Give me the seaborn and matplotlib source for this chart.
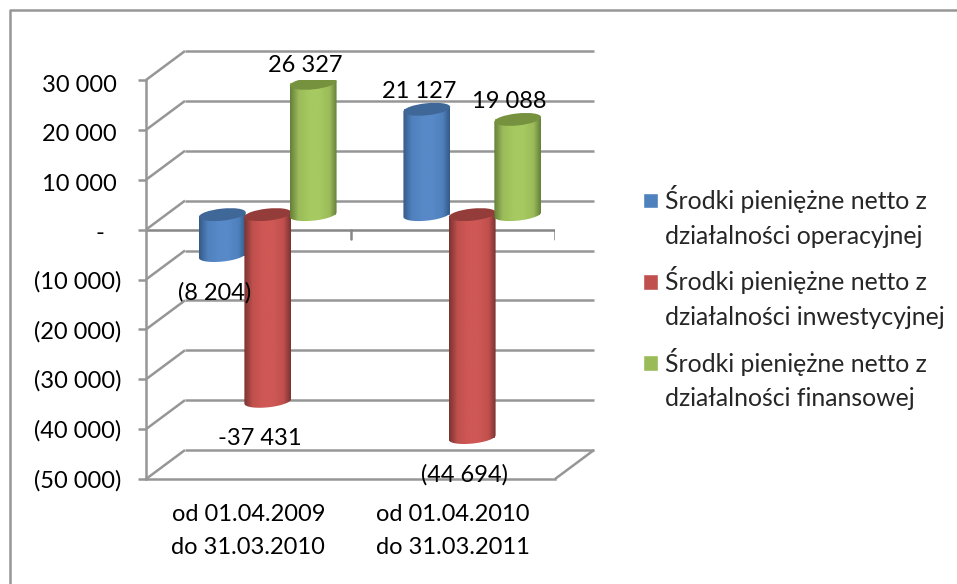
import numpy as np
import pandas as pd
import matplotlib
matplotlib.use('Agg')
import matplotlib.pyplot as plt
import seaborn as sns
from matplotlib.colors import LinearSegmentedColormap
from matplotlib.lines import Line2D
from matplotlib.patches import Ellipse
from matplotlib.path import Path
from matplotlib.transforms import Affine2D, IdentityTransform

# 1. Data
okresy = ['od 01.04.2009\ndo 31.03.2010', 'od 01.04.2010\ndo 31.03.2011']
serie = ['Środki pieniężne netto z\ndziałalności operacyjnej',
         'Środki pieniężne netto z\ndziałalności inwestycyjnej',
         'Środki pieniężne netto z\ndziałalności finansowej']
operacyjna = [-8204, 21127]
inwestycyjna = [-37431, -44694]
finansowa = [26327, 19088]
etykiety_operacyjna = ['(8 204)', '21 127']
etykiety_inwestycyjna = ['-37 431', '(44 694)']
etykiety_finansowa = ['26 327', '19 088']
os_y = [30000, 20000, 10000, 0, -10000, -20000, -30000, -40000, -50000]
os_y_opisy = ['30 000', '20 000', '10 000', '-', '(10 000)', '(20 000)',
              '(30 000)', '(40 000)', '(50 000)']

# 2. Colours
kolory = ['#4F81BD', '#C0504D', '#9BBB59']
kolory_jasne = ['#5889C8', '#CF5855', '#A6CA61']
kolory_ciemne = ['#365A88', '#7A3432', '#64803A']
kolory_wieczka = ['#3F6797', '#943C39', '#76923F']
szary = '#969696'

df = pd.DataFrame({
    'okres': okresy * 3,
    'seria': [s for s in serie for _ in okresy],
    'wartosc': operacyjna + inwestycyjna + finansowa,
})

# 3. Figure and axes (front plane of the 3D box)
sns.set_style('white')
plt.rcParams['font.family'] = ['Lato', 'DejaVu Sans']
W, H = 957, 584
fig = plt.figure(figsize=(W / 100, H / 100), dpi=100)
ax = fig.add_axes([146 / W, (H - 479) / H, 409 / W, 399 / H])
ax.patch.set_alpha(0)

sns.barplot(data=df, x='okres', y='wartosc', hue='seria', palette=kolory,
            saturation=1, width=0.667, gap=0, ax=ax)
ax.set_xlim(-0.5, 1.5)
ax.set_ylim(-50000, 30000)
ax.set_xlabel('')
ax.set_ylabel('')

# depth of the box in pixels: back wall and the plane of the cylinders
BACK_X, BACK_Y = 39, 29
MID_X, MID_Y = 19.5, 15
back = ax.transData + Affine2D().translate(BACK_X, BACK_Y)
mid = ax.transData + Affine2D().translate(MID_X, MID_Y)
piksele = IdentityTransform()
GRUBOSC = 1.8


def linia(x, y):
    fig.add_artist(Line2D(x, y, color=szary, lw=GRUBOSC, transform=piksele,
                          solid_capstyle='butt', zorder=1))


# 4. Walls and floor of the box
for v in os_y:
    ax.plot([-0.5, 1.5], [v, v], color=szary, lw=GRUBOSC, transform=back,
            clip_on=False, zorder=1, solid_capstyle='butt')
    px, py = ax.transData.transform((-0.5, v))
    linia([px, px + BACK_X], [py, py + BACK_Y])
px, py = ax.transData.transform((1.5, -50000))
linia([px, px + BACK_X], [py, py + BACK_Y])

ax.axhline(0, color='#868686', lw=GRUBOSC, zorder=2)
for x in [0.5, 1.5]:
    px, py = ax.transData.transform((x, 0))
    ax.add_artist(Line2D([px, px], [py, py - 9], color='#868686', lw=GRUBOSC,
                         transform=piksele))

sns.despine(ax=ax, top=True, right=True)
for s in ['left', 'bottom']:
    ax.spines[s].set_color(szary)
    ax.spines[s].set_linewidth(GRUBOSC)

# 5. Turn the bars into cylinders
KAT = np.deg2rad(6)
RY = 6


def elipsa(cx, cy, rx, t):
    x = rx * np.cos(t) * np.cos(KAT) - RY * np.sin(t) * np.sin(KAT)
    y = rx * np.cos(t) * np.sin(KAT) + RY * np.sin(t) * np.cos(KAT)
    return np.column_stack([cx + x, cy + y])


wszystkie_etykiety = [etykiety_operacyjna, etykiety_inwestycyjna, etykiety_finansowa]
for i, kont in enumerate(ax.containers):
    cmap = LinearSegmentedColormap.from_list(
        'c', [(0, kolory_ciemne[i]), (0.18, kolory[i]), (0.42, kolory_jasne[i]),
              (0.62, kolory_jasne[i]), (0.85, kolory[i]), (1, kolory_ciemne[i])])
    for j, p in enumerate(kont.patches):
        p.set_transform(mid)
        p.set_clip_on(False)
        p.set_zorder(3 + i)
        p.set_linewidth(0)

        w = p.get_y() + p.get_height()
        gora, dol = max(p.get_y(), w), min(p.get_y(), w)
        xs = p.get_x() + p.get_width() / 2
        cx, gy = mid.transform((xs, gora))
        _, dy = mid.transform((xs, dol))
        x0, _ = mid.transform((p.get_x(), gora))
        rx = cx - x0 + 0.75

        # body with a horizontal gradient, clipped to the side of the cylinder
        luk = elipsa(cx, dy, rx, np.linspace(np.pi, 2 * np.pi, 40))
        obrys = np.vstack([elipsa(cx, gy, rx, np.array([np.pi])), luk,
                           elipsa(cx, gy, rx, np.array([0.0]))])
        im = ax.imshow(np.linspace(0, 1, 96)[None, :], cmap=cmap, aspect='auto',
                       extent=(cx - rx, cx + rx, dy - 12, gy + 12),
                       transform=piksele, zorder=3 + i + 0.1,
                       interpolation='bilinear')
        im.set_clip_path(Path(obrys, closed=False), piksele)

        # top of the cylinder
        ax.add_artist(Ellipse((cx, gy), 2 * rx, 2 * RY, angle=6, transform=piksele,
                              facecolor=kolory_wieczka[i], edgecolor='none',
                              zorder=3 + i + 0.2))

        # value label
        poza = (cx - 8, gy + 18) if w > 0 else (cx - 8, dy - 37)
        ax.text(poza[0], poza[1], wszystkie_etykiety[i][j], transform=piksele,
                ha='center', va='center', fontsize=17, color='black', zorder=10)

ax.set_xlim(-0.5, 1.5)
ax.set_ylim(-50000, 30000)

# 6. Tick labels
ax.set_yticks(os_y)
ax.set_yticklabels(os_y_opisy, fontsize=17, color='black')
ax.tick_params(axis='y', left=True, length=6, width=GRUBOSC, color=szary, pad=12)
for lab, v in zip(ax.get_yticklabels(), os_y):
    cofniecie = -17 if v == 0 else (-4 if v > 0 else 0)
    w_dol = -2 if v == 0 else (-3 if v > 0 else 0)
    lab.set_transform(lab.get_transform() + Affine2D().translate(cofniecie, w_dol))

ax.set_xticks([0, 1])
ax.set_xticklabels(okresy, fontsize=17, color='black', linespacing=1.68)
ax.tick_params(axis='x', bottom=False, pad=14.5)

# 7. Legend
uchwyty, opisy = ax.get_legend_handles_labels()
leg = ax.legend(uchwyty, opisy, loc='upper left', frameon=False, fontsize=17.8,
                bbox_to_anchor=(643 / W, (H - 185) / H), bbox_transform=fig.transFigure,
                handlelength=0.61, handleheight=0.61, handletextpad=0.26,
                labelspacing=0.75, borderpad=0, borderaxespad=0)
for t in leg.get_texts():
    t.set_linespacing(1.62)
for h in leg.legend_handles:
    h.set_y(h.get_y() + 12)

# 8. Outer frame of the chart
fig.add_artist(Line2D([10 / W, 10 / W, 1], [0, 1 - 10 / H, 1 - 10 / H], color=szary, lw=GRUBOSC))

fig.savefig('out.png', dpi=100)
